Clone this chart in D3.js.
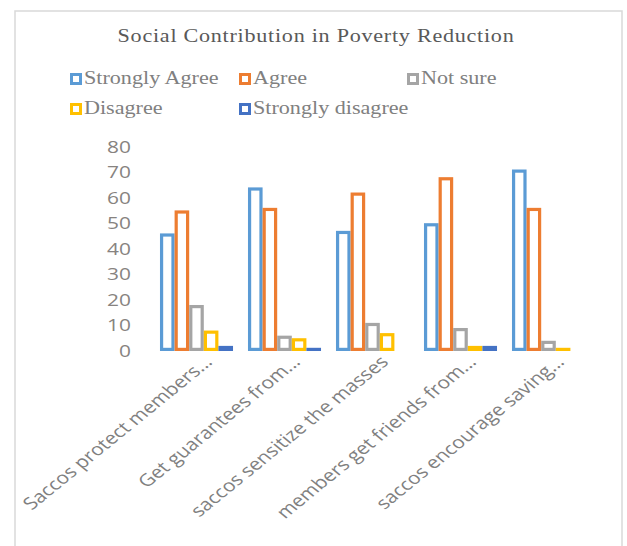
<!DOCTYPE html>
<html>
<head>
<meta charset="utf-8">
<script src="https://cdn.jsdelivr.net/npm/d3@7"></script>
<style>
  body { margin: 0; background: #fff; }
</style>
</head>
<body>
<script>
const width = 627;
const height = 546;

// data
const categories = [
  "Saccos protect members...",
  "Get guarantees from...",
  "saccos sensitize the masses",
  "members get friends from...",
  "saccos encourage saving..."
];
const seriesNames = ["Strongly Agree", "Agree", "Not sure", "Disagree", "Strongly disagree"];
const stronglyAgree = [46, 64, 47, 50, 71];
const agree = [55, 56, 62, 68, 56];
const notSure = [18, 6, 11, 9, 4];
const disagree = [8, 5, 7, 2, 1];
const stronglyDisagree = [2, 1, 0, 2, 0];
const yTicks = [0, 10, 20, 30, 40, 50, 60, 70, 80];

const colors = ["#5B9BD5", "#ED7D31", "#A5A5A5", "#FFC000", "#4472C4"];
const series = [stronglyAgree, agree, notSure, disagree, stronglyDisagree];

// the picture is stretched sideways a bit
const sx = 1.23;

const svg = d3.select("body").append("svg")
  .attr("width", width)
  .attr("height", height);

// chart border
svg.append("rect")
  .attr("x", 15).attr("y", 11)
  .attr("width", 607).attr("height", 560)
  .attr("fill", "#fff")
  .attr("stroke", "#d9d9d9")
  .attr("stroke-width", 1.5);

// title
svg.append("text")
  .attr("transform", `translate(316,42) scale(${sx},1)`)
  .attr("text-anchor", "middle")
  .attr("font-family", "Liberation Serif")
  .attr("font-size", 18)
  .attr("letter-spacing", 0.6)
  .attr("fill", "#595959")
  .text("Social Contribution in Poverty Reduction");

// legend
const legendPos = [[70, 73], [239, 73], [407, 73], [70, 103], [239, 103]];
const legend = svg.append("g")
  .selectAll("g")
  .data(seriesNames)
  .join("g")
  .attr("transform", (d, i) => `translate(${legendPos[i][0]},${legendPos[i][1]})`);

legend.append("rect")
  .attr("x", 1.5).attr("y", 1.5)
  .attr("width", 9).attr("height", 9)
  .attr("fill", "#fff")
  .attr("stroke", (d, i) => colors[i])
  .attr("stroke-width", 3);

legend.append("text")
  .attr("transform", `translate(14,11) scale(${sx},1)`)
  .attr("font-family", "Liberation Serif")
  .attr("font-size", 18)
  .attr("fill", "#808080")
  .text((d) => d);

// scales
const x = d3.scaleBand()
  .domain(categories)
  .range([152.5, 592.5])
  .paddingInner(0.17)
  .paddingOuter(0.085);

const x1 = d3.scaleBand()
  .domain(d3.range(series.length))
  .range([0, x.bandwidth()]);

const y = d3.scaleLinear()
  .domain([0, 80])
  .range([351, 146.5]);

// y tick labels
svg.append("g")
  .selectAll("text")
  .data(yTicks)
  .join("text")
  .attr("transform", (d) => `translate(131,${y(d) + 6}) scale(${sx},1)`)
  .attr("text-anchor", "end")
  .attr("font-family", "Open Sans")
  .attr("font-size", 17)
  .attr("fill", "#878380")
  .text((d) => d);

// bars
const groups = svg.append("g")
  .selectAll("g")
  .data(categories)
  .join("g")
  .attr("transform", (d) => `translate(${x(d)},0)`);

groups.selectAll("rect")
  .data((d, ci) => series.map((s, si) => ({ si, v: s[ci] })))
  .join("rect")
  .filter((d) => d.v > 0)
  .attr("x", (d) => x1(d.si) + 1.6)
  .attr("width", x1.bandwidth() - 3.2)
  .attr("y", (d) => Math.min(y(d.v), y(0) - 3.2) + 1.6)
  .attr("height", (d) => Math.max(y(0) - y(d.v) - 3.2, 0.01))
  .attr("fill", "#fff")
  .attr("stroke", (d) => colors[d.si])
  .attr("stroke-width", 3.2);

// category labels
svg.append("g")
  .selectAll("text")
  .data(categories)
  .join("text")
  .attr("transform", (d) => `translate(${x(d) + x.bandwidth() / 2 + 17},${363}) scale(${sx},1) rotate(-45)`)
  .attr("text-anchor", "end")
  .attr("font-family", "Open Sans")
  .attr("font-size", 17)
  .attr("fill", "#808080")
  .text((d) => d);
</script>
</body>
</html>
